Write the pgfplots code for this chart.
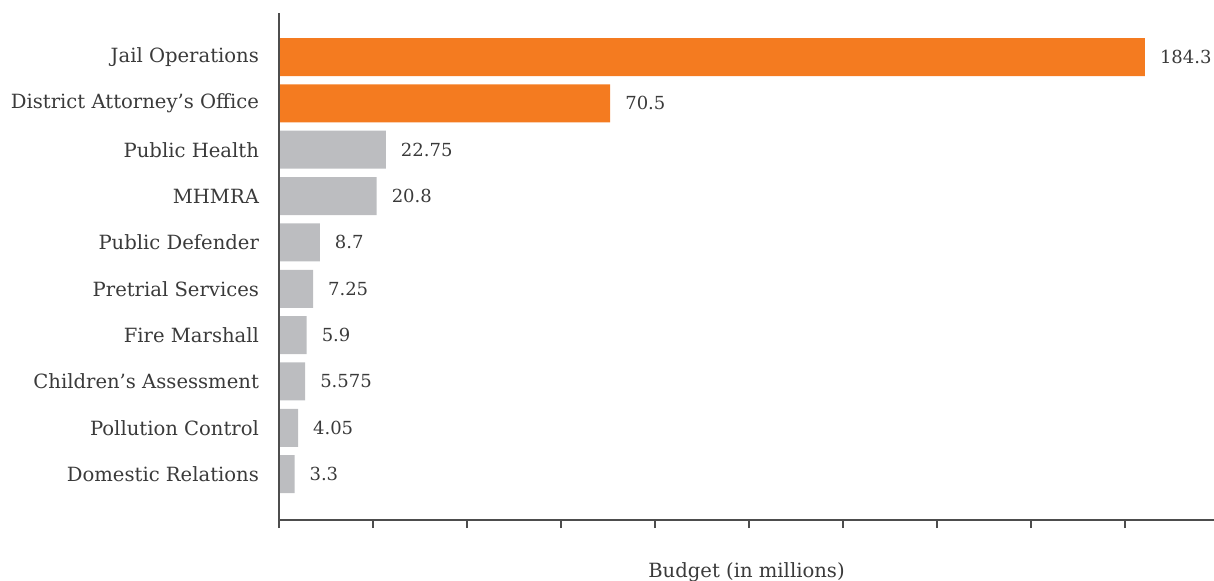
\documentclass[border=0pt]{standalone}
\usepackage{pgfplots}
\pgfplotsset{compat=1.18}
\usepackage{pgfplotstable}
\usepackage{fontspec}
\setmainfont{DejaVu Serif}
\definecolor{barorange}{HTML}{F47B20}
\definecolor{bargrey}{HTML}{BCBDC0}
\definecolor{axisgrey}{HTML}{4D4D4D}
\definecolor{txt}{HTML}{3A3A3A}
\pgfplotstableread{
idx val lab
0 184.3 184.3
1 70.5 70.5
}\orangedata
\pgfplotstableread{
idx val lab
2 22.75 22.75
3 20.8 20.8
4 8.7 8.7
5 7.25 7.25
6 5.9 5.9
7 5.575 5.575
8 4.05 4.05
9 3.3 3.3
}\greydata
\begin{document}
\begin{tikzpicture}[font=\fontsize{9.8}{12}\selectfont, text=txt]
\begin{axis}[
  scale only axis,
  width=467.5pt, height=253.5pt,
  axis on top,
  xbar, bar width=19pt, bar shift=0pt,
  xmin=0, xmax=199,
  ymin=-0.95, ymax=9.99,
  y dir=reverse,
  axis x line=bottom, axis y line=left,
  axis line style={-, draw=axisgrey, line width=1pt},
  xtick={0,20,...,180}, xticklabels={},
  tick align=outside, major tick length=4pt,
  xtick style={draw=axisgrey, line width=0.8pt},
  ytick={0,...,9},
  yticklabels={Jail Operations, District Attorney's Office, Public Health, MHMRA, Public Defender, Pretrial Services, Fire Marshall, Children's Assessment, Pollution Control, Domestic Relations},
  ytick style={draw=none},
  yticklabel style={font=\fontsize{9.8}{12}\selectfont, text=txt, xshift=-2.5pt},
  xlabel={Budget (in millions)},
  xlabel style={font=\fontsize{9.8}{12}\selectfont, text=txt, at={(axis description cs:0.5,0)}, anchor=north, yshift=-18pt},
  nodes near coords,
  point meta=explicit symbolic,
  every node near coord/.append style={font=\fontsize{9}{11}\selectfont, text=txt, anchor=west, xshift=4pt},
]
\addplot[draw=none, fill=barorange] table[x=val, y=idx, meta=lab] {\orangedata};
\addplot[draw=none, fill=bargrey] table[x=val, y=idx, meta=lab] {\greydata};
\end{axis}
\pgfresetboundingbox
\path (current axis.south west) ++(-139.5pt,-30pt) rectangle ++(607pt,290pt);
\end{tikzpicture}
\end{document}
